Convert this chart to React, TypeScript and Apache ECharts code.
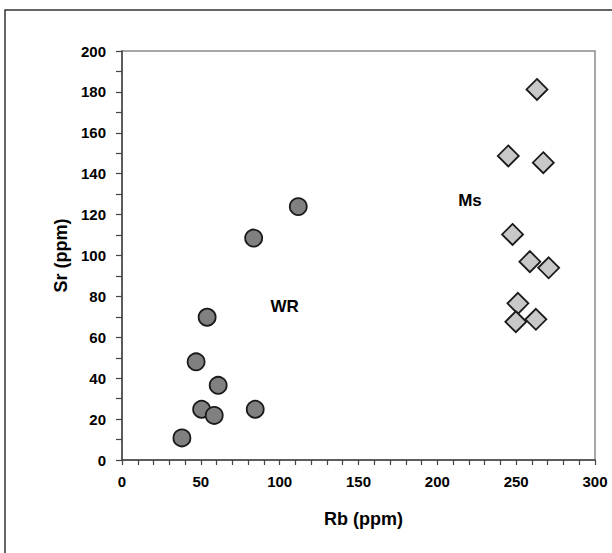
import React, { useEffect, useRef } from "react";
import * as echarts from "echarts";

// Whole-rock (WR) samples: Rb, Sr (ppm)
const wrRb = [38, 50.5, 58.5, 61, 47, 54, 84.5, 83.5, 111.8];
const wrSr = [10.8, 24.8, 21.8, 36.5, 48, 69.8, 24.8, 108.5, 123.9];

// Muscovite (Ms) samples: Rb, Sr (ppm)
const msRb = [263.2, 245, 267.2, 247.7, 258.7, 270.6, 251.1, 249.8, 262.5];
const msSr = [181.2, 148.7, 145.4, 110.3, 97, 94, 76.6, 67.6, 68.8];

// Group labels placed in data coordinates
const groupNames = ["WR", "Ms"];
const groupLabelRb = [103.2, 220.7];
const groupLabelSr = [75.2, 127];

const xTicks = { min: 0, max: 300, interval: 50 };
const yTicks = { min: 0, max: 200, interval: 20 };

const FONT = "'Liberation Sans', Arial, sans-serif";

export default function App() {
  const ref = useRef<HTMLDivElement>(null);

  useEffect(() => {
    if (!ref.current) return;
    const chart = echarts.init(ref.current, undefined, { renderer: "svg" });

    const wrData = wrRb.map((x, i) => [x, wrSr[i]]);
    const msData = msRb.map((x, i) => [x, msSr[i]]);
    const labelData = groupNames.map((n, i) => ({
      value: [groupLabelRb[i], groupLabelSr[i]],
      name: n,
    }));

    const axisText = {
      color: "#000",
      fontFamily: FONT,
      fontWeight: "bold" as const,
      fontSize: 15,
    };

    chart.setOption({
      animation: false,
      backgroundColor: "#fff",
      grid: {
        left: 122,
        top: 51,
        right: 17,
        bottom: 93,
        show: true,
        borderColor: "#8a8a8a",
        borderWidth: 1.5,
        backgroundColor: "transparent",
      },
      xAxis: {
        type: "value",
        min: xTicks.min,
        max: xTicks.max,
        interval: xTicks.interval,
        name: "Rb (ppm)",
        nameLocation: "middle",
        nameGap: 50,
        nameTextStyle: { ...axisText, fontSize: 18, padding: [0, 0, 0, 10] },
        axisLine: { show: true, lineStyle: { color: "#444", width: 1.5 } },
        axisTick: { show: true, length: 5, lineStyle: { color: "#444", width: 1.2 } },
        minorTick: { show: true, splitNumber: 5, length: 5, lineStyle: { color: "#444", width: 1.2 } },
        splitLine: { show: false },
        minorSplitLine: { show: false },
        axisLabel: { ...axisText, margin: 14 },
      },
      yAxis: {
        type: "value",
        min: yTicks.min,
        max: yTicks.max,
        interval: yTicks.interval,
        name: "Sr (ppm)",
        nameLocation: "middle",
        nameGap: 47,
        nameTextStyle: { ...axisText, fontSize: 18 },
        axisLine: { show: true, lineStyle: { color: "#444", width: 1.5 } },
        axisTick: { show: true, length: 6, lineStyle: { color: "#444", width: 1.2 } },
        minorTick: { show: true, splitNumber: 2, length: 6, lineStyle: { color: "#444", width: 1.2 } },
        splitLine: { show: false },
        minorSplitLine: { show: false },
        axisLabel: { ...axisText, margin: 16 },
      },
      graphic: [
        {
          type: "polyline",
          shape: { points: [[5, 600], [5, 10], [700, 10]] },
          style: { stroke: "#333", lineWidth: 1.5, fill: "none" },
          z: 0,
        },
      ],
      series: [
        {
          name: "WR",
          type: "scatter",
          data: wrData,
          symbol: "circle",
          symbolSize: 17,
          itemStyle: { color: "#808080", borderColor: "#1a1a1a", borderWidth: 1.8, opacity: 1 },
        },
        {
          name: "Ms",
          type: "scatter",
          data: msData,
          symbol: "diamond",
          symbolSize: [21, 21],
          itemStyle: { color: "#c8c8c8", borderColor: "#1a1a1a", borderWidth: 1.8, opacity: 1 },
        },
        {
          name: "labels",
          type: "scatter",
          data: labelData,
          symbolSize: 0,
          silent: true,
          itemStyle: { opacity: 1 },
          label: {
            show: true,
            position: "inside",
            formatter: (p: any) => p.name,
            color: "#000",
            textBorderWidth: 0,
            fontFamily: FONT,
            fontWeight: "bold",
            fontSize: 17,
          },
        },
      ],
    });

    return () => chart.dispose();
  }, []);

  return (
    <div
      ref={ref}
      style={{ position: "fixed", left: 0, top: 0, width: 612, height: 553 }}
    />
  );
}
